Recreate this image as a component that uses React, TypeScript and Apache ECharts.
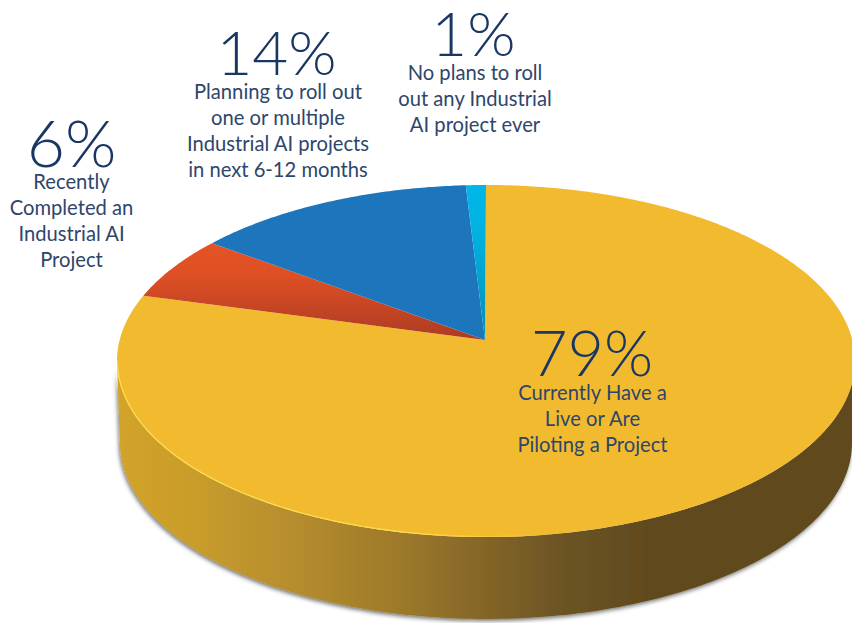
import React, { useEffect, useRef } from "react";
import * as echarts from "echarts";

const categories = [
  "Currently Have a\nLive or Are\nPiloting a Project",
  "Recently\nCompleted an\nIndustrial AI\nProject",
  "Planning to roll out\none or multiple\nIndustrial AI projects\nin next 6-12 months",
  "No plans to roll\nout any Industrial\nAI project ever",
];
const shares = [79, 6, 14, 1];

// Label placement, in the same order as the categories: centre x, percent y, text top y.
const labelX = [592.5, 71.5, 278, 475];
const percentX = [592, 71.5, 276.5, 473.5];
const percentY = [351, 141, 51, 32];
const percentSize = [63, 66, 62, 62];
const textTop = [379, 168, 78, 59];

const faceFills: any[] = [
  "#F2BB2F",
  { type: "linear", x: 0, y: 0, x2: 0, y2: 1, colorStops: [{ offset: 0, color: "#E55324" }, { offset: 0.35, color: "#DD4F24" }, { offset: 1, color: "#AC3B22" }] },
  "#1D75BC",
  { type: "linear", x: 0, y: 0, x2: 0, y2: 1, colorStops: [{ offset: 0, color: "#00B7E8" }, { offset: 0.3, color: "#00B2E2" }, { offset: 1, color: "#0090B4" }] },
];

const NAVY = "#1A3763";
const BODY = "#2E466B";

// Perspective geometry of the disc.
const CX = 486;
const CY = 361;
const RX = 369;
const RY = 176;
const TILT = 0.135; // perspective strength of the top face
const APEX_X = 485;
const APEX_Y = 340;
const BOTTOM_CX = 486;
const BOTTOM_CY = 443;
const BOTTOM_RX = 366;
const BOTTOM_RY = 176;

// Share (0..100, clockwise from 12 o'clock) -> point on the rim of the top face.
function rimPoint(share: number): [number, number] {
  const t = (share / 100) * Math.PI * 2;
  const s = Math.sin(t);
  const c = Math.cos(t);
  const d = 1 + TILT * c;
  const x = (s * Math.sqrt(1 - TILT * TILT)) / d;
  const y = (c + TILT) / d;
  return [CX + RX * x, CY - RY * y];
}

function arc(cx: number, cy: number, rx: number, ry: number, from: number, to: number) {
  const pts: number[][] = [];
  const n = 160;
  for (let i = 0; i <= n; i++) {
    const a = from + ((to - from) * i) / n;
    pts.push([cx + rx * Math.cos(a), cy + ry * Math.sin(a)]);
  }
  return pts;
}

const wallFill = {
  type: "linear",
  x: 0,
  y: 0,
  x2: 1,
  y2: 0,
  colorStops: [
    { offset: 0, color: "#D3A32C" },
    { offset: 0.11, color: "#C89C2C" },
    { offset: 0.25, color: "#B48C2D" },
    { offset: 0.39, color: "#9C782A" },
    { offset: 0.5, color: "#836528" },
    { offset: 0.6, color: "#6C5424" },
    { offset: 0.72, color: "#614A1E" },
    { offset: 1, color: "#614A1E" },
  ],
};

export default function App() {
  const ref = useRef<HTMLDivElement>(null);
  useEffect(() => {
    const chart = echarts.init(ref.current!, undefined, { renderer: "svg" });
    let cum = 0;
    const sliceData = shares.map((v) => {
      const row = [cum, cum + v];
      cum += v;
      return row;
    });
    const texts: any[] = [];
    shares.forEach((v, i) => {
      texts.push({
        type: "text",
        z: 100,
        style: {
          text: `${v}%`,
          x: percentX[i],
          y: percentY[i],
          textAlign: "center",
          textVerticalAlign: "middle",
          font: `300 ${percentSize[i]}px Lato`,
          lineHeight: 44,
          fill: NAVY,
        },
      });
      texts.push({
        type: "text",
        z: 100,
        style: {
          text: categories[i],
          x: labelX[i],
          y: textTop[i],
          textAlign: "center",
          textVerticalAlign: "top",
          font: "400 20.2px Lato",
          lineHeight: 26,
          fill: BODY,
        },
      });
    });
    chart.setOption({
      animation: false,
      backgroundColor: "#ffffff",
      graphic: texts,
      series: [
        {
          type: "custom",
          coordinateSystem: "none",
          silent: true,
          z: 1,
          data: [[0]],
          renderItem: () => {
            const top = arc(CX, CY, RX, RY, Math.PI, 0);
            const bottom = arc(BOTTOM_CX, BOTTOM_CY, BOTTOM_RX, BOTTOM_RY, 0, Math.PI);
            return {
              type: "polygon",
              shape: { points: [...top, ...bottom] },
              style: {
                fill: wallFill,
                shadowColor: "rgba(0,0,0,0.55)",
                shadowBlur: 4,
                shadowOffsetX: -1,
                shadowOffsetY: 2,
              },
            };
          },
        },
        {
          type: "custom",
          coordinateSystem: "none",
          silent: true,
          z: 2,
          data: sliceData,
          renderItem: (params: any, api: any) => {
            const from = api.value(0);
            const to = api.value(1);
            const pts: number[][] = [[APEX_X, APEX_Y]];
            const steps = Math.max(8, Math.ceil((to - from) * 6));
            for (let i = 0; i <= steps; i++) pts.push(rimPoint(from + ((to - from) * i) / steps));
            return {
              type: "polygon",
              shape: { points: pts },
              style: { fill: faceFills[params.dataIndex] },
            };
          },
        },
        {
          type: "custom",
          coordinateSystem: "none",
          silent: true,
          z: 3,
          data: [[0]],
          renderItem: () => ({
            type: "polyline",
            shape: { points: arc(CX, CY, RX - 0.5, RY - 0.5, Math.PI, Math.PI * 0.45) },
            style: {
              fill: "none",
              lineWidth: 1.2,
              stroke: {
                type: "linear",
                x: 0,
                y: 0,
                x2: 1,
                y2: 0,
                colorStops: [
                  { offset: 0, color: "#FFDC4C" },
                  { offset: 0.7, color: "#FFDC4C" },
                  { offset: 1, color: "#F2BB2F" },
                ],
              },
            },
          }),
        },
      ],
    });
    return () => chart.dispose();
  }, []);
  return <div ref={ref} style={{ position: "absolute", left: 0, top: 0, width: 852, height: 623 }} />;
}
